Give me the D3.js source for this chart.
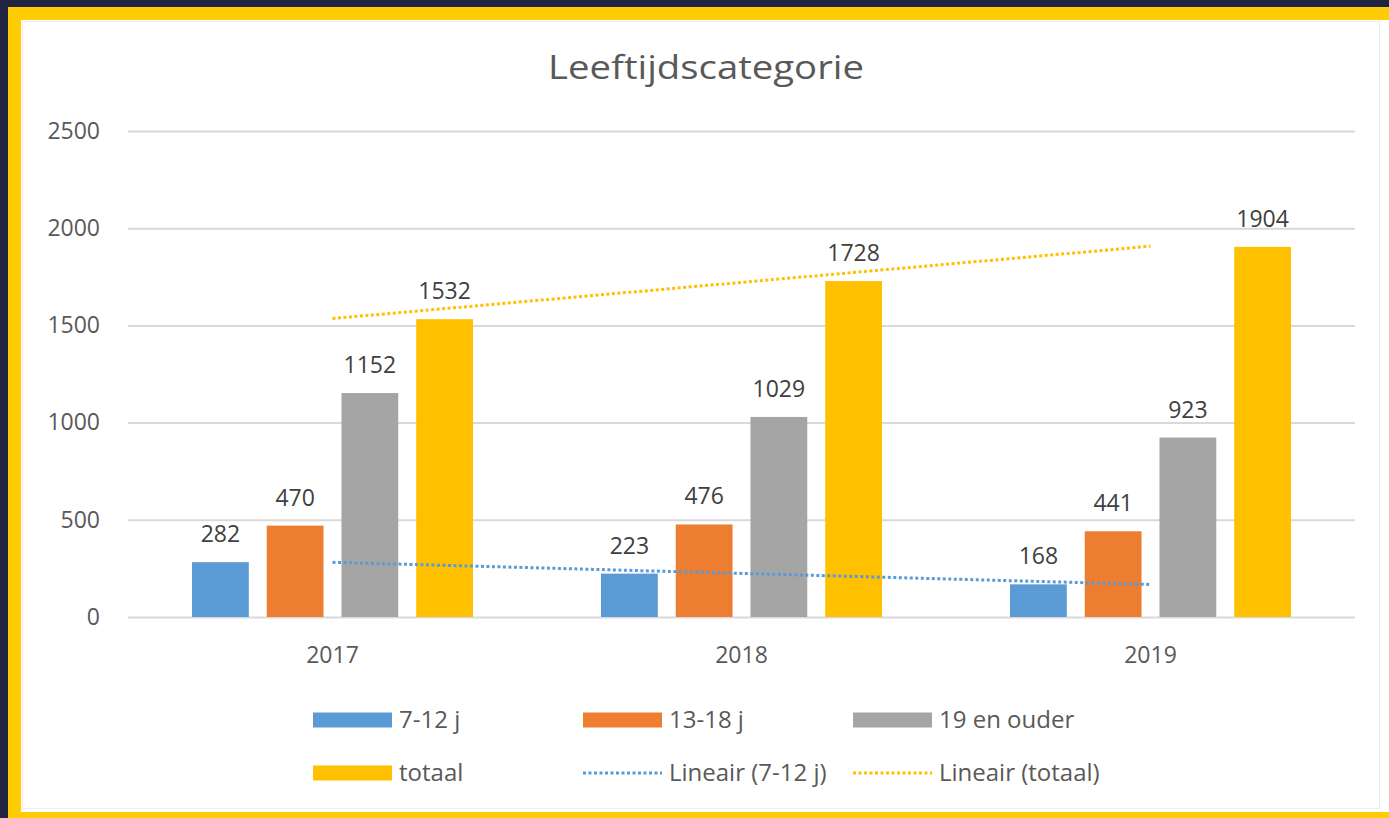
<!DOCTYPE html>
<html>
<head>
<meta charset="utf-8">
<script src="https://cdnjs.cloudflare.com/ajax/libs/d3/7.8.5/d3.min.js"></script>
<style>
  body { margin: 0; background: #1f2540; }
  svg { display: block; }
  text { font-family: 'Open Sans', sans-serif; }
</style>
</head>
<body>
<div id="chart"></div>
<script>
var categories = ['2017', '2018', '2019'];
var seriesNames = ['7-12 j', '13-18 j', '19 en ouder', 'totaal'];
var values712 = [282, 223, 168];
var values1318 = [470, 476, 441];
var values19 = [1152, 1029, 923];
var valuesTotaal = [1532, 1728, 1904];
var yTicks = [0, 500, 1000, 1500, 2000, 2500];
var seriesColors = ['#5b9bd5', '#ed7d31', '#a5a5a5', '#ffc000'];
var trendNames = ['Lineair (7-12 j)', 'Lineair (totaal)'];

var width = 1389,
    height = 818;

var series = [values712, values1318, values19, valuesTotaal];

var svg = d3.select('#chart').append('svg')
    .attr('width', width)
    .attr('height', height);

// frame
svg.append('rect')
    .attr('x', 8).attr('y', 7)
    .attr('width', width - 8).attr('height', height - 7)
    .attr('fill', '#ffcb05');
svg.append('rect')
    .attr('x', 21).attr('y', 20)
    .attr('width', width - 21).attr('height', 792)
    .attr('fill', '#ffffff');
svg.append('rect')
    .attr('x', 22.5).attr('y', 21.5)
    .attr('width', 1357).attr('height', 787)
    .attr('fill', 'none')
    .attr('stroke', '#ececec');

var x0 = d3.scaleBand()
    .domain(categories)
    .range([128, 1355])
    .paddingInner(0.313)
    .paddingOuter(0.1565);

var x1 = d3.scaleBand()
    .domain(seriesNames)
    .range([0, x0.bandwidth()])
    .paddingInner(0.24);

var y = d3.scaleLinear()
    .domain([0, 2500])
    .range([617, 131]);

// title
svg.append('text')
    .attr('x', 706)
    .attr('y', 79)
    .attr('text-anchor', 'middle')
    .attr('font-size', 33)
    .attr('fill', '#595959')
    .attr('textLength', 316)
    .attr('lengthAdjust', 'spacingAndGlyphs')
    .text('Leeftijdscategorie');

// y axis + gridlines
var yAxis = svg.append('g')
    .attr('transform', 'translate(128,0)')
    .call(d3.axisLeft(y).tickValues(yTicks).tickFormat(d3.format('d')).tickSize(-1227).tickPadding(28));
yAxis.select('.domain').remove();
yAxis.selectAll('line').attr('stroke', '#d9d9d9').attr('stroke-width', 2);
yAxis.selectAll('text')
    .attr('font-size', 23)
    .attr('fill', '#595959')
    .style('font-family', "'Open Sans', sans-serif");

// x axis
var xAxis = svg.append('g')
    .attr('transform', 'translate(0,617)')
    .call(d3.axisBottom(x0).tickSize(0).tickPadding(30));
xAxis.select('.domain').remove();
xAxis.selectAll('text')
    .attr('font-size', 23)
    .attr('fill', '#595959')
    .style('font-family', "'Open Sans', sans-serif");

// bars
var groups = svg.append('g').selectAll('g')
    .data(categories)
    .enter().append('g')
    .attr('transform', function (d) { return 'translate(' + x0(d) + ',0)'; });

groups.selectAll('rect')
    .data(function (d, i) {
        return seriesNames.map(function (s, j) { return { name: s, value: series[j][i], color: seriesColors[j] }; });
    })
    .enter().append('rect')
    .attr('x', function (d) { return x1(d.name); })
    .attr('y', function (d) { return y(d.value); })
    .attr('width', x1.bandwidth())
    .attr('height', function (d) { return y(0) - y(d.value); })
    .attr('fill', function (d) { return d.color; });

groups.selectAll('text')
    .data(function (d, i) {
        return seriesNames.map(function (s, j) { return { name: s, value: series[j][i] }; });
    })
    .enter().append('text')
    .attr('x', function (d) { return x1(d.name) + x1.bandwidth() / 2; })
    .attr('y', function (d) { return y(d.value) - 20; })
    .attr('text-anchor', 'middle')
    .attr('font-size', 23)
    .attr('fill', '#404040')
    .text(function (d) { return d.value; });

// linear trendlines
function trend(vals) {
    var n = vals.length,
        mx = d3.mean(vals, function (v, i) { return i; }),
        my = d3.mean(vals);
    var num = d3.sum(vals, function (v, i) { return (i - mx) * (v - my); }),
        den = d3.sum(vals, function (v, i) { return (i - mx) * (i - mx); });
    var b = num / den, a = my - b * mx;
    return [[0, a], [n - 1, a + b * (n - 1)]];
}

var line = d3.line()
    .x(function (d) { return x0(categories[d[0]]) + x0.bandwidth() / 2; })
    .y(function (d) { return y(d[1]); });

[[values712, seriesColors[0]], [valuesTotaal, seriesColors[3]]].forEach(function (t) {
    svg.append('path')
        .attr('d', line(trend(t[0])))
        .attr('fill', 'none')
        .attr('stroke', t[1])
        .attr('stroke-width', 3)
        .attr('stroke-dasharray', '3,2.5');
});

// legend
var legendItems = [
    { label: seriesNames[0], color: seriesColors[0], type: 'bar' },
    { label: seriesNames[1], color: seriesColors[1], type: 'bar' },
    { label: seriesNames[2], color: seriesColors[2], type: 'bar' },
    { label: seriesNames[3], color: seriesColors[3], type: 'bar' },
    { label: trendNames[0], color: seriesColors[0], type: 'line' },
    { label: trendNames[1], color: seriesColors[3], type: 'line' }
];
var legendCols = [313, 583, 853],
    legendRows = [720, 773];

var leg = svg.append('g').selectAll('g')
    .data(legendItems)
    .enter().append('g')
    .attr('transform', function (d, i) {
        return 'translate(' + legendCols[i % 3] + ',' + legendRows[Math.floor(i / 3)] + ')';
    });

leg.filter(function (d) { return d.type === 'bar'; })
    .append('rect')
    .attr('x', 0).attr('y', -7.5)
    .attr('width', 79).attr('height', 15)
    .attr('fill', function (d) { return d.color; });

leg.filter(function (d) { return d.type === 'line'; })
    .append('line')
    .attr('x1', 0).attr('x2', 79)
    .attr('y1', 0).attr('y2', 0)
    .attr('stroke', function (d) { return d.color; })
    .attr('stroke-width', 3)
    .attr('stroke-dasharray', '3,2.5');

leg.append('text')
    .attr('x', 86)
    .attr('y', 8)
    .attr('font-size', 24)
    .attr('fill', '#595959')
    .text(function (d) { return d.label; });
</script>
</body>
</html>
